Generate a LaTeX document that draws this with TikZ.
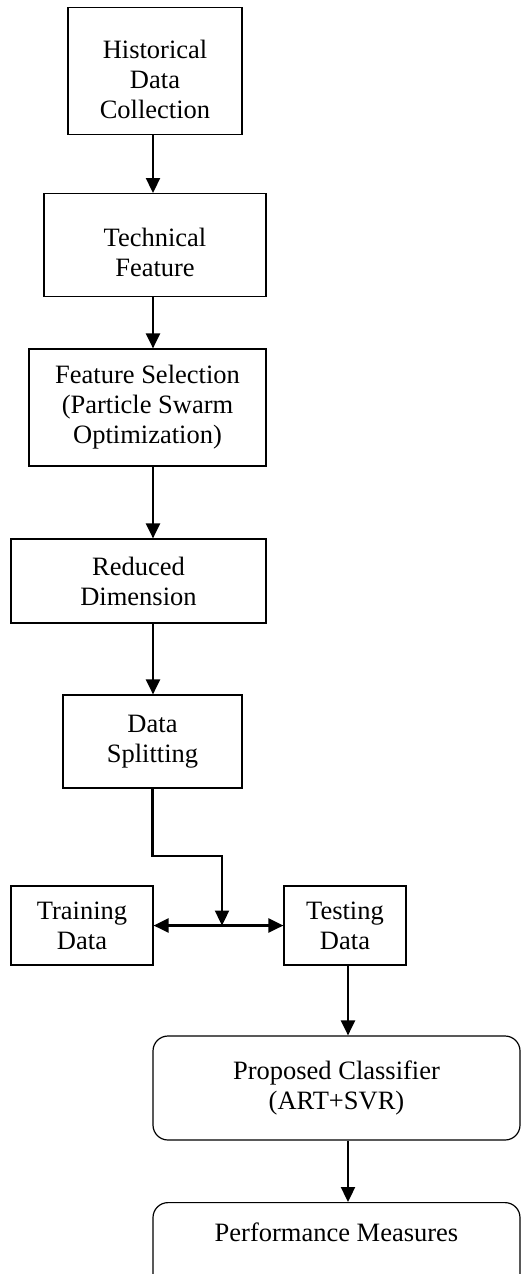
\documentclass[tikz,border=0pt]{standalone}
\usepackage{fontspec}
\setmainfont{Liberation Serif}
\usetikzlibrary{arrows.meta}
\begin{document}
\begin{tikzpicture}[x=1pt,y=-1pt,
    >={Triangle[width=14pt,length=15pt]},
    stepbox/.style={draw, line width=1.2pt, inner sep=0pt, align=center, font=\fontsize{26.5}{30}\selectfont},
    roundbox/.style={stepbox, rounded corners=15pt},
    flow/.style={line width=2.3pt, ->}]
    \useasboundingbox (0,0) rectangle (521,1274);
    \clip (0,0) rectangle (521,1274);

    \node[stepbox, minimum width=174pt, text height=111pt, text depth=16pt, anchor=north] (HC) at (155,7) {Historical\\Data\\Collection};
    \node[stepbox, minimum width=222pt, text height=83pt, text depth=20pt, anchor=north] (TF) at (155,193) {Technical\\Feature};
    \node[stepbox, minimum width=237pt, minimum height=117pt] (FS) at (147.5,407.5) {Feature Selection\\(Particle Swarm\\Optimization)};
    \node[stepbox, minimum width=255pt, minimum height=84pt] (RD) at (138.5,581) {Reduced\\Dimension};
    \node[stepbox, minimum width=179pt, minimum height=93pt] (DS) at (152.5,741.5) {Data\\Splitting};
    \node[stepbox, minimum width=142pt, minimum height=79pt] (TR) at (82,925.5) {Training\\Data};
    \node[stepbox, minimum width=122pt, minimum height=79pt] (TE) at (345,925.5) {Testing\\Data};
    \node[roundbox, minimum width=367pt, minimum height=104pt] (PC) at (336.5,1088) {Proposed Classifier\\(ART+SVR)};
    \node[roundbox, minimum width=367pt, text height=39pt, text depth=60pt, anchor=north] (PM) at (336.5,1202) {Performance Measures};

    \coordinate (spine) at (153,0);
    \coordinate (drop) at (348,0);
    \coordinate (bend) at (222,856);

    \draw[flow] (HC.south -| spine) -- (TF.north -| spine);
    \draw[flow] (TF.south -| spine) -- (FS.north -| spine);
    \draw[flow] (FS.south -| spine) -- (RD.north -| spine);
    \draw[flow] (RD.south -| spine) -- (DS.north -| spine);
    \draw[flow] (DS.south) |- (bend) -- (bend |- TR.east);
    \draw[flow, <->] (TR.east) -- (TE.west);
    \draw[flow] (TE.south -| drop) -- (PC.north -| drop);
    \draw[flow] (PC.south -| drop) -- (PM.north -| drop);
\end{tikzpicture}
\end{document}
